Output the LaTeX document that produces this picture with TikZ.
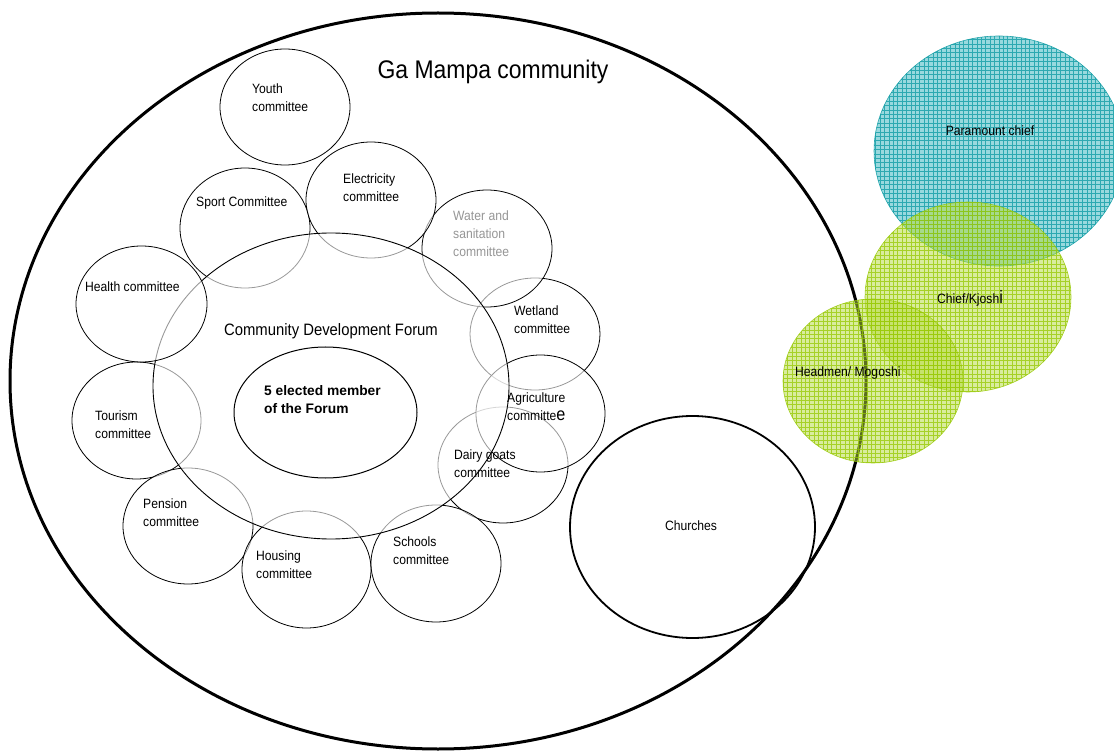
\documentclass[tikz,border=0pt]{standalone}
\usepackage{fontspec}
\setmainfont{Liberation Sans}[FakeStretch=0.9]
\newfontfamily\boldf{Liberation Sans}
\definecolor{tealfill}{RGB}{85,192,200}
\definecolor{tealline}{RGB}{0,150,158}
\definecolor{greenfill}{RGB}{180,218,60}
\definecolor{greenline}{RGB}{150,200,0}
\definecolor{watergray}{RGB}{150,150,150}
\begin{document}
\begin{tikzpicture}[x=1pt,y=-1pt,
  comm/.style={draw=black, line width=0.8pt, fill=white, fill opacity=0.6},
  lbl/.style={font=\fontsize{13.5}{18}\selectfont, align=left, inner sep=0pt, anchor=west, text=black},
  clbl/.style={font=\fontsize{13.5}{18}\selectfont, align=center, inner sep=0pt, anchor=center, text=black},
  tealshape/.style={fill=tealfill, fill opacity=0.6, draw=tealline, draw opacity=0.8, line width=0.6pt},
  greenshape/.style={fill=greenfill, fill opacity=0.5, draw=greenline, draw opacity=0.8, line width=0.6pt},
  tealgrid/.style={draw=tealline, line width=0.6pt, draw opacity=0.7},
  greengrid/.style={draw=greenline, line width=0.6pt, draw opacity=0.75}]
\useasboundingbox (0,0) rectangle (1114,751);
\fill[white] (0,0) rectangle (1114,751);
% outer community
\draw[line width=3pt] (438,381) ellipse [x radius=428pt, y radius=368pt];
% committees behind the forum
\path[comm] (535,334) ellipse [x radius=65pt, y radius=56pt];   % wetland
\path[comm] (487,248.5) ellipse [x radius=65pt, y radius=58.5pt]; % water
\path[comm] (503,465) ellipse [x radius=65pt, y radius=58pt];   % dairy
\path[comm] (540.5,413.5) ellipse [x radius=64.5pt, y radius=58.5pt]; % agriculture
\path[comm] (245,228) ellipse [x radius=65pt, y radius=60pt];   % sport
\path[comm] (371,200) ellipse [x radius=65pt, y radius=58pt];   % electricity
\path[comm] (136.5,420.5) ellipse [x radius=64.5pt, y radius=58.5pt]; % tourism
\path[comm] (188,526) ellipse [x radius=65pt, y radius=58pt];   % pension
\path[comm] (306.5,569.5) ellipse [x radius=64.5pt, y radius=58.5pt]; % housing
\path[comm] (436,563.5) ellipse [x radius=65pt, y radius=58.5pt]; % schools
\path[comm] (285,107) ellipse [x radius=65pt, y radius=58pt];   % youth
% forum
\path[comm, line width=0.9pt] (331,386) ellipse [x radius=178pt, y radius=153pt];
% health on top of forum
\path[comm] (141.5,304) ellipse [x radius=65.5pt, y radius=58pt];
% inner elected members
\draw[line width=1pt] (325.5,412.5) ellipse [x radius=91.5pt, y radius=65.5pt];
% churches
\draw[line width=1.8pt] (692.5,527) ellipse [x radius=122.5pt, y radius=111pt];
% traditional leadership: paramount chief
\path[tealshape] (999,151) ellipse [x radius=125pt, y radius=115pt];
\begin{scope}
  \clip (999,151) ellipse [x radius=125pt, y radius=115pt];
  \path[tealgrid] (872,34) grid [xstep=4.4pt, ystep=4.4pt] (1126,268);
\end{scope}
% chief
\path[greenshape] (968,297) ellipse [x radius=103pt, y radius=95pt];
\begin{scope}
  \clip (968,297) ellipse [x radius=103pt, y radius=95pt];
  \path[greengrid] (863,200) grid [xstep=4.4pt, ystep=4.4pt] (1073,394);
\end{scope}
% headmen
\path[greenshape] (873,381) ellipse [x radius=90pt, y radius=82pt];
\begin{scope}
  \clip (873,381) ellipse [x radius=90pt, y radius=82pt];
  \path[greengrid] (781,297) grid [xstep=4.4pt, ystep=4.4pt] (965,465);
\end{scope}
% texts
\node[clbl, font=\fontsize{25.5}{28}\selectfont] (title) at (493,72) {Ga Mampa community};
\node[lbl] (youth) at (252,98) {Youth\\committee};
\node[lbl] (elec) at (343,188) {Electricity\\committee};
\node[lbl] (sport) at (196,203) {Sport Committee};
\node[lbl, text=watergray] (water) at (453,234) {Water and\\sanitation\\committee};
\node[lbl] (health) at (85,287) {Health committee};
\node[lbl] (wet) at (514,320) {Wetland\\committee};
\node[clbl, font=\fontsize{16.5}{20}\selectfont] (forum) at (331,331) {Community Development Forum};
\node[lbl, font=\boldf\bfseries\fontsize{13.8}{18}\selectfont] (elected) at (264,400) {5 elected member\\of the Forum};
\node[lbl] (agri) at (507,407) {Agriculture\\committe{\fontsize{18}{18}\selectfont e}};
\node[lbl] (tour) at (95,425) {Tourism\\committee};
\node[lbl] (dairy) at (454,464) {Dairy goats\\committee};
\node[lbl] (pension) at (143,513) {Pension\\committee};
\node[clbl] (church) at (691,526) {Churches};
\node[lbl] (school) at (393,551) {Schools\\committee};
\node[lbl] (house) at (256,565) {Housing\\committee};
\node[clbl] (para) at (990,131) {Paramount chief};
\node[clbl] (chief) at (970,298) {Chief/Kjosh{\fontsize{18}{18}\selectfont i}};
\node[lbl] (head) at (795,373) {Headmen/ Mogoshi};
\end{tikzpicture}
\end{document}
